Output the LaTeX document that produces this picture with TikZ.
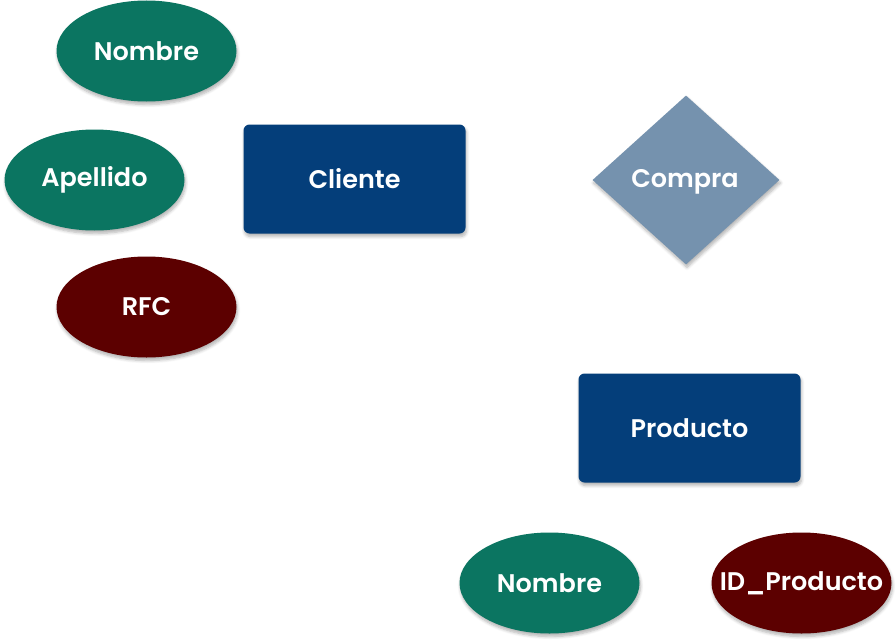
\documentclass[tikz,border=0pt]{standalone}
\usepackage{fontspec}
\setmainfont{Poppins SemiBold}
\usetikzlibrary{shapes.geometric,shadows.blur}
\definecolor{attgreen}{HTML}{0B7561}
\definecolor{attred}{HTML}{5C0000}
\definecolor{entblue}{HTML}{043E7A}
\definecolor{relblue}{HTML}{7592AE}
\tikzset{
  sh/.style={blur shadow={shadow xshift=1pt,shadow yshift=-3pt,shadow blur steps=6,shadow opacity=30,shadow blur radius=3pt}},
  lbl/.style={text=white,font=\fontsize{25.5}{28}\selectfont,inner sep=0pt},
  attr/.style={ellipse,minimum width=180pt,minimum height=101pt,draw=none,sh,lbl,inner xsep=-50pt},
  attrg/.style={attr,fill=attgreen},
  attrr/.style={attr,fill=attred},
  entity/.style={rectangle,rounded corners=6pt,minimum width=222pt,minimum height=109pt,fill=entblue,sh,lbl},
  rel/.style={diamond,minimum width=187pt,minimum height=169pt,aspect=1.1,inner sep=0pt,fill=relblue,sh,lbl}
}
\begin{document}
\begin{tikzpicture}[x=1pt,y=-1pt]
\useasboundingbox (0,0) rectangle (896,642);
\node[attrg] (nombre1) at (146.5,51) {Nombre};
\node[attrg] (apellido) at (94.5,180) {Apellido};
\node[attrr] (rfc) at (146.5,307) {RFC};
\node[entity] (cliente) at (354.5,179) {Cliente};
\node[rel] (compra) at (686,180) {};
\node[lbl] (compratxt) at (685,182) {Compra};
\node[entity] (producto) at (689.5,428) {Producto};
\node[attrg] (nombre2) at (549.5,583) {Nombre};
\node[attrr] (idprod) at (801.5,583) {ID\_Producto};
\end{tikzpicture}
\end{document}
